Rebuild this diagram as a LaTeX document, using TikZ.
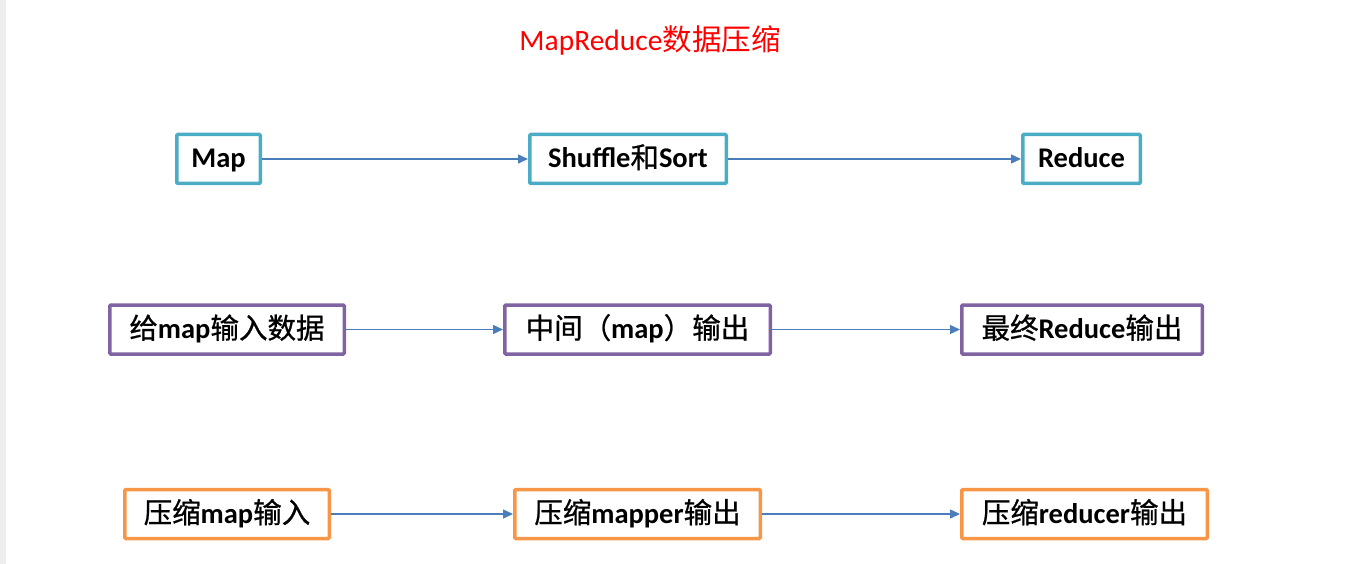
\documentclass[tikz,border=0pt]{standalone}
\usepackage{fontspec}
\setmainfont{Carlito}
\newfontfamily\cjk{Noto Sans CJK SC}
\newfontfamily\cjkb[FakeBold=0.8]{Noto Sans CJK SC}
\usetikzlibrary{arrows.meta}
\definecolor{boxcyan}{HTML}{4BACC6}
\definecolor{boxpurple}{HTML}{8064A2}
\definecolor{boxorange}{HTML}{F79646}
\definecolor{linkblue}{HTML}{4A7EBB}
\definecolor{edgegray}{HTML}{EEEEEE}
\newcommand{\zh}[1]{{\cjkb\mdseries #1}}
\tikzset{
	box/.style={draw=#1,line width=3.5pt,rounded corners=1pt,inner sep=0pt,
		minimum height=49pt,text height=23pt,text depth=5pt,
		font=\fontsize{28.5}{32}\selectfont\bfseries},
	link/.style={draw=linkblue,line width=1.4pt,-{Triangle[length=10pt,width=9pt]}}
}
\begin{document}
\begin{tikzpicture}[x=1pt,y=-1pt]
	\useasboundingbox (0,0) rectangle (1349,564);
	\fill[edgegray] (0,0) rectangle (6,564);
	\node[text=red,font=\fontsize{29.5}{32}\selectfont] (title) at (650,40) {MapReduce{\cjk 数据压缩}};

	% stages
	\node[box=boxcyan,minimum width=83.5pt] (a1) at (218.5,159) {Map};
	\node[box=boxcyan,minimum width=196.5pt] (a2) at (628,159) {Shuffle\zh{和}Sort};
	\node[box=boxcyan,minimum width=117.5pt] (a3) at (1081.5,159) {Reduce};

	% data
	\node[box=boxpurple,minimum width=234.5pt] (b1) at (227,329.5) {\zh{给}map\zh{输入数据}};
	\node[box=boxpurple,minimum width=265.5pt] (b2) at (637.5,329.5) {\zh{中间（}map\zh{）输出}};
	\node[box=boxpurple,minimum width=240.5pt] (b3) at (1082,329.5) {\zh{最终}Reduce\zh{输出}};

	% compression
	\node[box=boxorange,minimum width=204.5pt] (c1) at (227,514) {\zh{压缩}map\zh{输入}};
	\node[box=boxorange,minimum width=245.5pt] (c2) at (637.5,514) {\zh{压缩}mapper\zh{输出}};
	\node[box=boxorange,minimum width=245.5pt] (c3) at (1084.5,514) {\zh{压缩}reducer\zh{输出}};

	\draw[link] (a1) -- (a2);
	\draw[link] (a2) -- (a3);
	\draw[link] (b1) -- (b2);
	\draw[link] (b2) -- (b3);
	\draw[link] (c1) -- (c2);
	\draw[link] (c2) -- (c3);
\end{tikzpicture}
\end{document}
